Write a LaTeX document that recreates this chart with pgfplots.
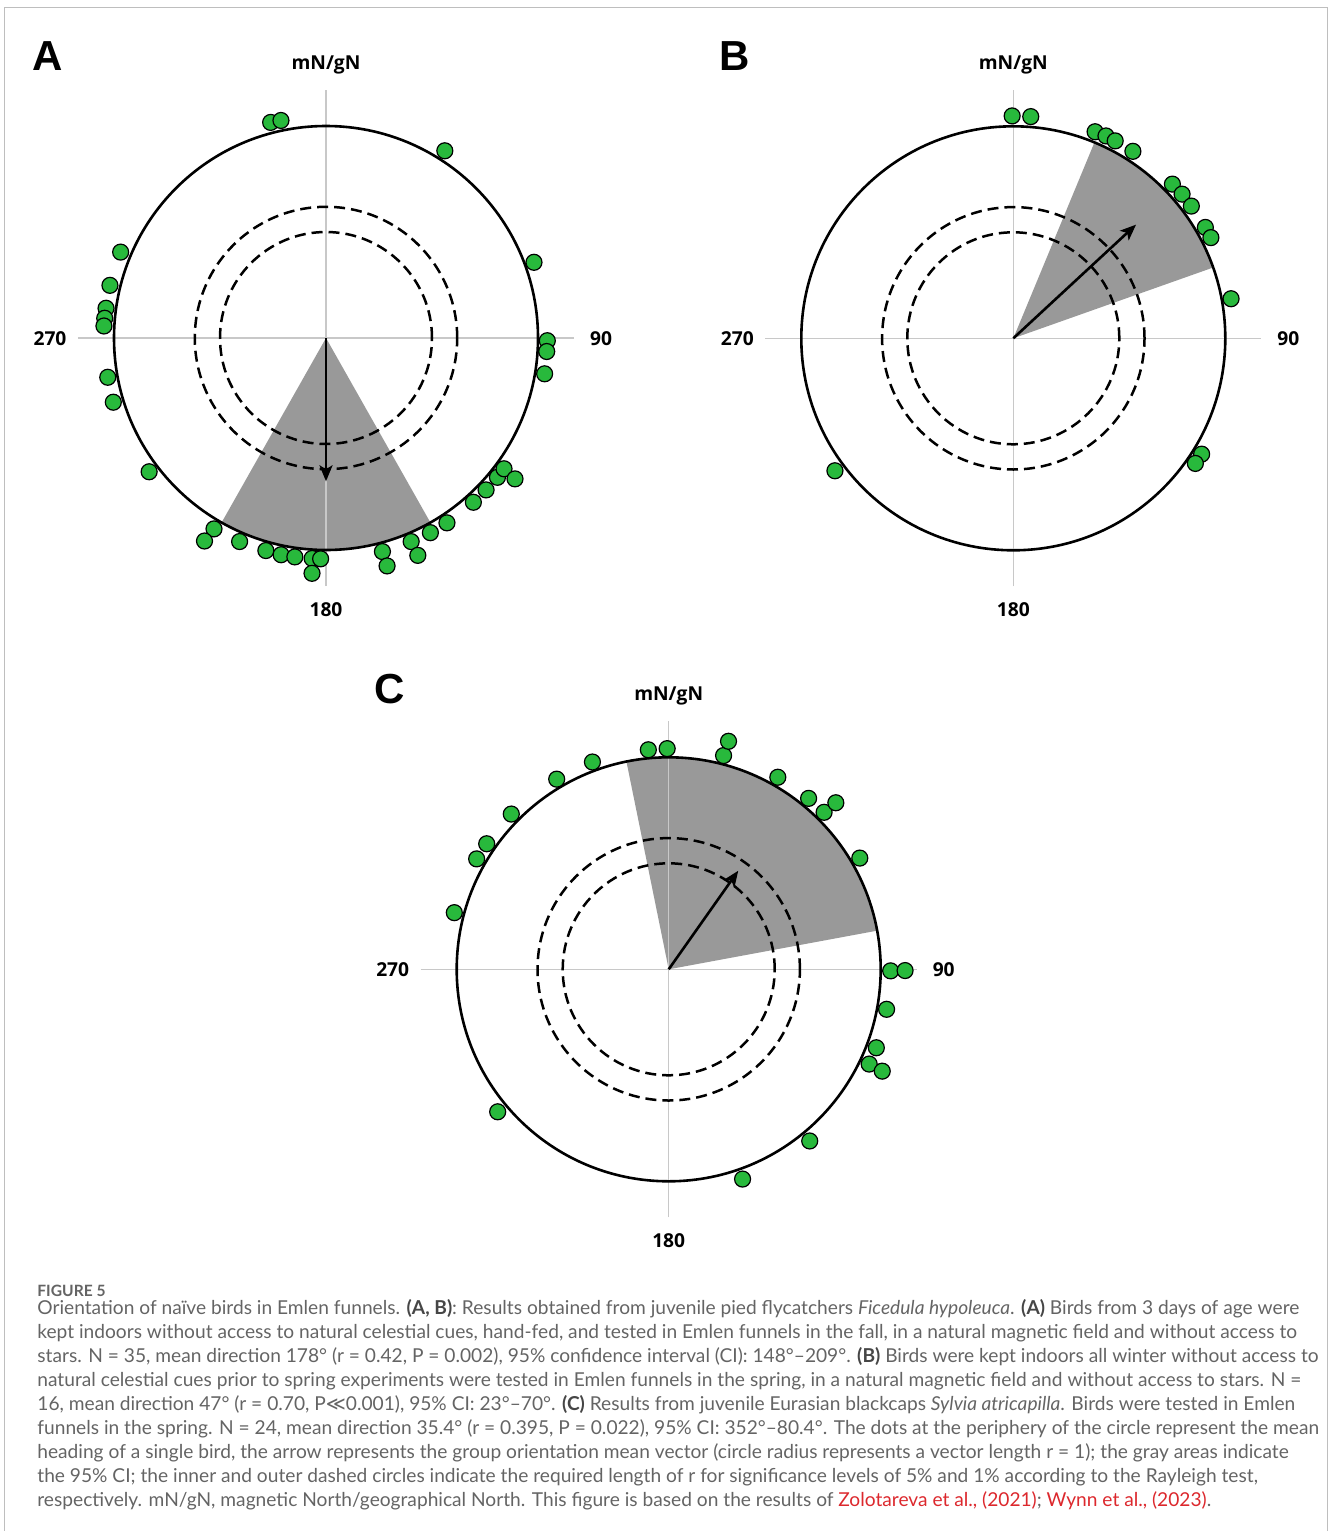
\documentclass[border=0pt]{standalone}
\usepackage{fontspec}
\setmainfont{Lato}
\newfontfamily\labfont{Open Sans}
\newfontfamily\letfont{Liberation Sans}
\newfontfamily\symfont{DejaVu Sans}
\usepackage{pgfplots}
\pgfplotsset{compat=1.18}
\usetikzlibrary{arrows.meta}
\definecolor{dotgreen}{RGB}{40,185,60}
\definecolor{wedgegray}{RGB}{153,153,153}
\definecolor{crossgray}{RGB}{200,200,200}
\definecolor{framegray}{RGB}{190,190,190}
\definecolor{captext}{RGB}{100,100,100}
\definecolor{capbold}{RGB}{70,70,70}
\definecolor{linkred}{RGB}{220,40,45}
\pgfplotsset{polarpanel/.style={hide axis, x=106pt, y=106pt, xmin=-1.4, xmax=1.4, ymin=-1.4, ymax=1.4, anchor=center, clip=false},
  birddots/.style={only marks, mark=*, mark size=4pt, mark options={fill=dotgreen, draw=black, line width=0.6pt}},
  meanvec/.style={black, line width=1.3pt, -{Stealth[length=8pt, width=6.5pt, inset=2pt]}}}
\tikzset{complab/.style={font=\labfont\bfseries\fontsize{9.6}{11}\selectfont, inner sep=0pt},
  panlet/.style={font=\letfont\bfseries\fontsize{21}{24}\selectfont, inner sep=0pt, anchor=base},
  captxt/.style={font=\fontsize{9.58}{12}\selectfont, text=captext, inner sep=0pt, anchor=base west}}
\newcommand\compass[2]{%
  \node[complab, anchor=base] at (#1,#2-269) {mN/gN};
  \node[complab, anchor=base] at (#1-276,#2+7) {270};
  \node[complab, anchor=base] at (#1+275,#2+7) {90};
  \node[complab, anchor=base] at (#1,#2+278) {180};}
\newcommand\ring{%
  \draw[crossgray, line width=0.6pt] (axis cs:-1.17,0) -- (axis cs:1.17,0) (axis cs:0,-1.17) -- (axis cs:0,1.17);
  \draw[black, line width=1.25pt, dash pattern=on 5.5pt off 3pt] (axis cs:0,0) circle[radius=65.6pt];
  \draw[black, line width=1.25pt, dash pattern=on 5.5pt off 3pt] (axis cs:0,0) circle[radius=53pt];
  \draw[black, line width=1.3pt] (axis cs:0,0) circle[radius=106pt];}
\newcommand\B[1]{\textbf{\color{capbold}#1}}
\begin{document}
\begin{tikzpicture}
\useasboundingbox (0,0) rectangle (665pt,-765.5pt);
% ---------------- Panel A
\begin{axis}[polarpanel, at={(163pt,-169pt)}]
\fill[wedgegray] (axis cs:0,0) -- ++(-60.5:106pt) arc[start angle=-60.5, end angle=-119.5, radius=106pt] -- cycle;
\ring
\addplot[meanvec] table[x expr={\thisrow{r}*sin(\thisrow{b})}, y expr={\thisrow{r}*cos(\thisrow{b})}] {
b r
0 0
180 0.676
};
\addplot[birddots] table[x expr={\thisrow{r}*sin(\thisrow{b})}, y expr={\thisrow{r}*cos(\thisrow{b})}] {
b r
345.6 1.050
348.3 1.048
32.4 1.046
70.0 1.044
292.7 1.050
283.7 1.049
277.7 1.047
275.1 1.048
273.1 1.049
90.7 1.044
93.5 1.043
99.3 1.045
259.8 1.046
253.2 1.048
232.9 1.046
210.4 1.044
210.9 1.116
203.0 1.043
195.8 1.042
191.7 1.044
188.1 1.043
183.6 1.042
181.4 1.042
183.4 1.112
165.2 1.042
165.0 1.113
157.3 1.041
157.1 1.113
151.8 1.042
146.8 1.042
138.1 1.041
133.5 1.041
129.1 1.042
126.3 1.042
126.7 1.112
};
\end{axis}
% ---------------- Panel B
\begin{axis}[polarpanel, at={(506.65pt,-169.15pt)}]
\fill[wedgegray] (axis cs:0,0) -- ++(67.5:106pt) arc[start angle=67.5, end angle=19.5, radius=106pt] -- cycle;
\ring
\addplot[meanvec] table[x expr={\thisrow{r}*sin(\thisrow{b})}, y expr={\thisrow{r}*cos(\thisrow{b})}] {
b r
0 0
47.2 0.789
};
\addplot[birddots] table[x expr={\thisrow{r}*sin(\thisrow{b})}, y expr={\thisrow{r}*cos(\thisrow{b})}] {
b r
359.7 1.049
4.5 1.049
21.6 1.048
24.6 1.050
27.3 1.048
32.6 1.047
45.9 1.045
49.5 1.047
53.4 1.046
60.0 1.046
63.0 1.046
79.7 1.044
121.6 1.043
124.5 1.042
233.4 1.048
};
\end{axis}
% ---------------- Panel C
\begin{axis}[polarpanel, at={(334.35pt,-484.65pt)}]
\fill[wedgegray] (axis cs:0,0) -- ++(101.5:106pt) arc[start angle=101.5, end angle=10.5, radius=106pt] -- cycle;
\ring
\addplot[meanvec] table[x expr={\thisrow{r}*sin(\thisrow{b})}, y expr={\thisrow{r}*cos(\thisrow{b})}] {
b r
0 0
35.2 0.569
};
\addplot[birddots] table[x expr={\thisrow{r}*sin(\thisrow{b})}, y expr={\thisrow{r}*cos(\thisrow{b})}] {
b r
354.7 1.040
359.6 1.041
339.8 1.042
329.5 1.041
314.6 1.043
304.6 1.043
299.9 1.045
284.8 1.046
14.4 1.041
14.7 1.112
29.6 1.042
39.3 1.042
44.7 1.042
45.1 1.113
59.8 1.043
90.4 1.047
90.3 1.115
100.4 1.045
110.7 1.047
115.3 1.046
115.5 1.116
140.6 1.048
160.6 1.049
230.2 1.050
};
\end{axis}
% ---------------- texts in pixel units
\begin{scope}[x=0.5pt, y=-0.5pt]
\draw[framegray, line width=0.5pt] (4,1531) -- (4,7) -- (1327,7) -- (1327,1531);
\node[panlet] at (48,70.5) {A};
\node[panlet] at (735,70.5) {B};
\node[panlet] at (390,703) {C};
\compass{326}{338}
\compass{1013.3}{338.3}
\compass{668.7}{969.3}
\node[captxt, font=\bfseries\fontsize{7.8}{10}\selectfont] at (37,1296) {FIGURE 5};
\node[captxt] at (37,1314) {Orientation of naïve birds in Emlen funnels. \B{(A, B)}: Results obtained from juvenile pied flycatchers \textit{Ficedula hypoleuca}. \B{(A)} Birds from 3 days of age were};
\node[captxt] at (37,1338) {kept indoors without access to natural celestial cues, hand-fed, and tested in Emlen funnels in the fall, in a natural magnetic field and without access to};
\node[captxt] at (37,1362) {stars. N = 35, mean direction 178° (r = 0.42, P = 0.002), 95\% confidence interval (CI): 148°–209°. \B{(B)} Birds were kept indoors all winter without access to};
\node[captxt] at (37,1386) {natural celestial cues prior to spring experiments were tested in Emlen funnels in the spring, in a natural magnetic field and without access to stars. N =};
\node[captxt] at (37,1410) {16, mean direction 47° (r = 0.70, P{\symfont ≪}0.001), 95\% CI: 23°–70°. \B{(C)} Results from juvenile Eurasian blackcaps \textit{Sylvia atricapilla}. Birds were tested in Emlen};
\node[captxt] at (37,1434) {funnels in the spring. N = 24, mean direction 35.4° (r = 0.395, P = 0.022), 95\% CI: 352°–80.4°. The dots at the periphery of the circle represent the mean};
\node[captxt] at (37,1458) {heading of a single bird, the arrow represents the group orientation mean vector (circle radius represents a vector length r = 1); the gray areas indicate};
\node[captxt] at (37,1482) {the 95\% CI; the inner and outer dashed circles indicate the required length of r for significance levels of 5\% and 1\% according to the Rayleigh test,};
\node[captxt] at (37,1506) {respectively. mN/gN, magnetic North/geographical North. This figure is based on the results of \textcolor{linkred}{Zolotareva et al., (2021)}; \textcolor{linkred}{Wynn et al., (2023)}.};
\end{scope}
\end{tikzpicture}
\end{document}
